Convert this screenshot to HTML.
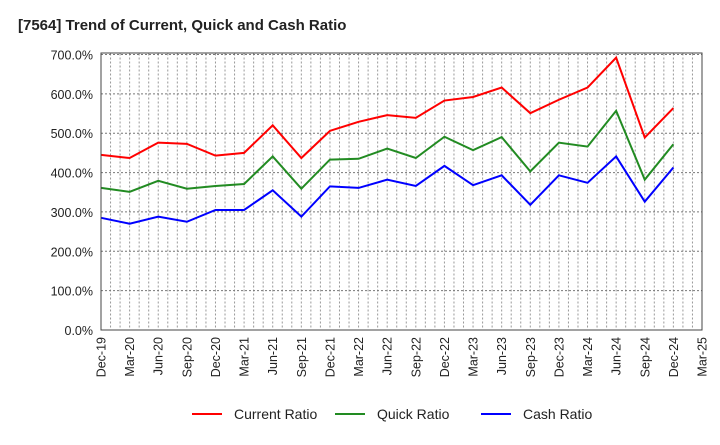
<!DOCTYPE html>
<html><head><meta charset="utf-8"><style>
body{margin:0;background:#fff;}
svg{font-family:"Liberation Sans",sans-serif;}
</style></head><body>
<svg id="chart" width="720" height="440">
<text x="18" y="30" font-size="15" font-weight="bold" fill="#222">[7564]  Trend of Current, Quick and Cash Ratio</text>
<g id="grid"></g><g id="series"></g><g id="axes"></g>
<g id="legend"></g>
</svg>
<script>
const categories=["Dec-19","Mar-20","Jun-20","Sep-20","Dec-20","Mar-21","Jun-21","Sep-21","Dec-21","Mar-22","Jun-22","Sep-22","Dec-22","Mar-23","Jun-23","Sep-23","Dec-23","Mar-24","Jun-24","Sep-24","Dec-24","Mar-25"];
const currentRatio=[445,437,476,473,443,450,520,437,506,529,546,539,583,592,616,551,585,616,692,489,564];
const quickRatio=[361,351,379,359,366,371,441,359,433,435,461,437,491,457,490,403,476,466,557,382,472];
const cashRatio=[285,270,288,275,305,305,355,288,365,361,382,366,417,368,393,318,393,374,441,326,413];
const yTicks=[0,100,200,300,400,500,600,700];
const NS="http://www.w3.org/2000/svg";
const L=101,R=702,T=54.5,B=330;
const xs=i=>L+i*(R-L)/21;
const ys=v=>B-v/700*(B-T);
function mk(tag,attrs,parent){const e=document.createElementNS(NS,tag);for(const k in attrs)e.setAttribute(k,attrs[k]);parent.appendChild(e);return e;}
const grid=document.getElementById('grid'),axes=document.getElementById('axes'),series=document.getElementById('series'),legend=document.getElementById('legend');
for(let m=1;m<63;m++){const x=L+m*(R-L)/63;const ln=mk('line',{x1:x,x2:x,y1:T-1,y2:B,stroke:'#999','stroke-width':1,'stroke-dasharray':'2,2'},grid);

}
yTicks.forEach(v=>{const y=ys(v);const ln=mk('line',{x1:L,x2:R,y1:y,y2:y,stroke:'#777','stroke-width':1,'stroke-dasharray':'2,2'},grid);


const t=mk('text',{x:93,y:y+5,'text-anchor':'end','font-size':12.5,fill:'#222'},axes);t.textContent=v.toFixed(1)+'%';

});
const box=mk('rect',{x:L,y:T-1.5,width:R-L,height:B-T+1.5,fill:'none',stroke:'#444','stroke-width':1},axes);


categories.forEach((c,i)=>{const x=xs(i);const t=mk('text',{x:0,y:0,'text-anchor':'end','font-size':12.5,fill:'#222',transform:`translate(${x+4.5},337) rotate(-90)`},axes);t.textContent=c;

});
const defs=[[currentRatio,'#ff0000','current-ratio-line','Current Ratio'],[quickRatio,'#228b22','quick-ratio-line','Quick Ratio'],[cashRatio,'#0000ff','cash-ratio-line','Cash Ratio']];
defs.forEach(([d,col,name])=>{const p=mk('polyline',{points:d.map((v,i)=>xs(i)+','+ys(v)).join(' '),fill:'none',stroke:col,'stroke-width':2},series);

});
const lx=[192,335,481];
defs.forEach(([d,col,name,label],k)=>{const g=mk('g',{},legend);


mk('line',{x1:lx[k],x2:lx[k]+30,y1:414,y2:414,stroke:col,'stroke-width':2},g);
const t=mk('text',{x:lx[k]+42,y:419,'font-size':14,fill:'#222'},g);t.textContent=label;});
</script>
</body></html>
